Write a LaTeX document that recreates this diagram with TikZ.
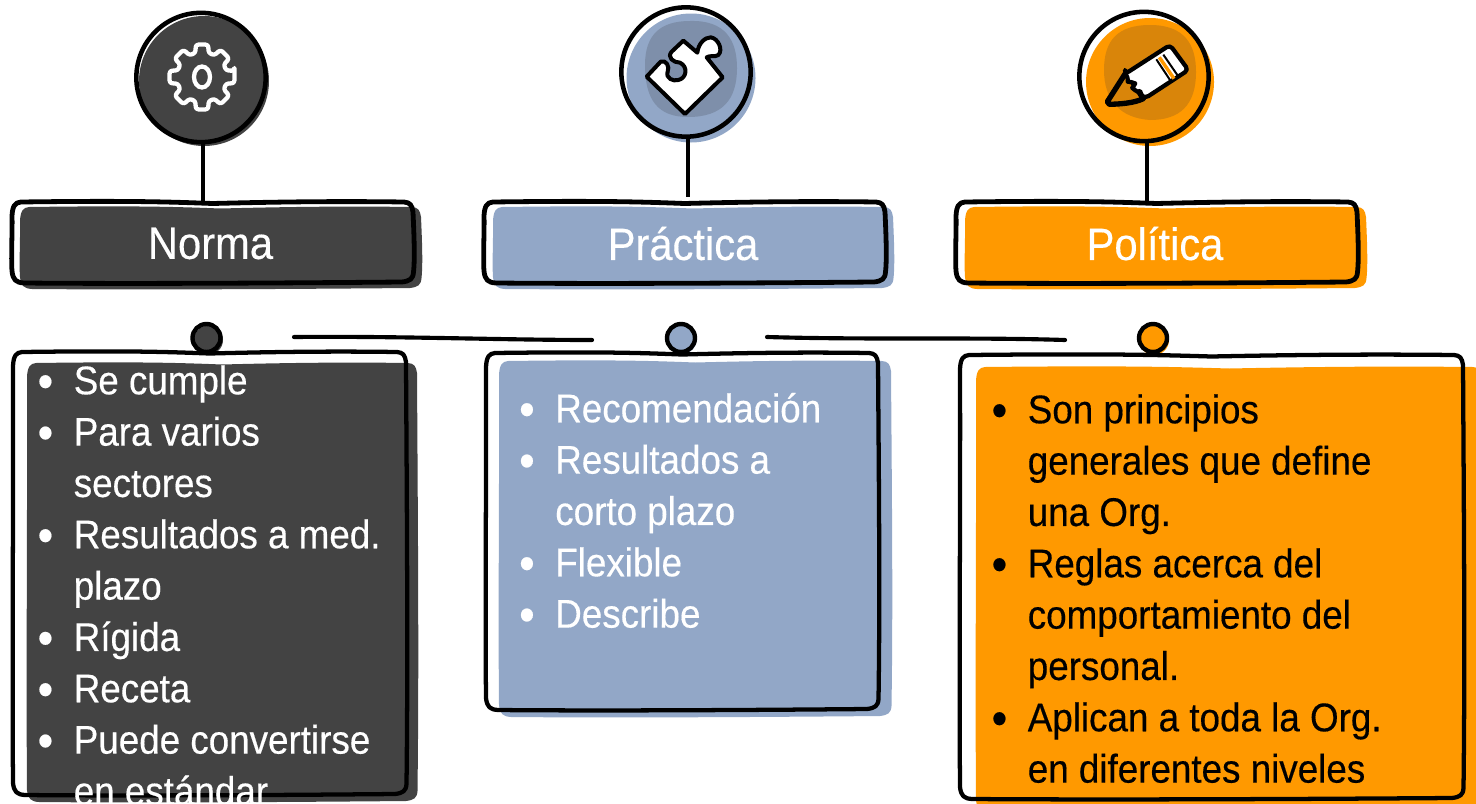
\documentclass[tikz,border=0pt]{standalone}
\usepackage{fontspec}
\usepackage{graphicx}
\setmainfont[FakeStretch=0.92,FakeBold=0.35]{Liberation Sans}
\definecolor{cdark}{HTML}{434343}
\definecolor{cblue}{HTML}{92A7C7}
\definecolor{cblueD}{HTML}{7E8FAA}
\definecolor{corange}{HTML}{FF9900}
\definecolor{corangeD}{HTML}{D9850A}
\newcommand{\hb}[4]{({#1+9},{#2}) .. controls ({#1+(#3-#1)*.3},{#2-1.5}) and ({#1+(#3-#1)*.4},{#2}) .. ({(#1+#3)/2},{#2+1.5})
 .. controls ({#1+(#3-#1)*.65},{#2}) and ({#1+(#3-#1)*.8},{#2-1}) .. ({#3-9},{#2})
 .. controls ({#3-3},{#2+.5}) and ({#3-1},{#2+3}) .. ({#3},{#2+10})
 .. controls ({#3+1},{#2+(#4-#2)*.4}) and ({#3+2},{#2+(#4-#2)*.7}) .. ({#3+.5},{#4-11})
 .. controls ({#3},{#4-4}) and ({#3-3},{#4-2}) .. ({#3-11},{#4-1})
 .. controls ({#1+(#3-#1)*.7},{#4}) and ({#1+(#3-#1)*.3},{#4+1}) .. ({#1+12},{#4})
 .. controls ({#1+4},{#4-.5}) and ({#1+1},{#4-3}) .. ({#1},{#4-12})
 .. controls ({#1-1},{#4-(#4-#2)*.3}) and ({#1+.5},{#2+(#4-#2)*.3}) .. ({#1},{#2+14})
 .. controls ({#1+.5},{#2+4}) and ({#1+3},{#2+.5}) .. ({#1+9},{#2}) -- cycle}
\newcommand{\lstrut}{\rule{0pt}{30pt}}
\newcommand{\bul}{\lstrut\llap{{\fontsize{36}{36}\selectfont\raisebox{-2.5pt}{\textbullet}}\hspace{15.45pt}}}
\tikzset{
 ol/.style={draw=black,line width=3.6pt,line join=round,line cap=round},
 thinol/.style={draw=black,line width=3.2pt,line join=round,line cap=round},
 ring/.style={circle,draw=black,line width=3.4pt,minimum size=97pt,inner sep=0pt},
 dot/.style={circle,draw=black,line width=3.3pt,minimum size=21pt,inner sep=0pt},
 title/.style={minimum width=300pt,minimum height=60.75pt,inner sep=0pt,text=white,font=\fontsize{34}{40}\selectfont},
 body/.style={anchor=north west,inner sep=0pt,align=left,font=\fontsize{30}{38.5}\selectfont},
 stem/.style={draw=black,line width=3pt},
 link/.style={draw=black,line width=3.1pt,line cap=round}
}
\begin{document}
\begin{tikzpicture}[x=0.75pt,y=-0.75pt]
\path[use as bounding box,clip] (0,0) rectangle (1476,803);
% ---- colour shapes behind
\fill[cdark] (204,81) circle [radius=65];
\fill[cblue] (691,78) circle [radius=64.5];
\fill[corange] (1150,82) circle [radius=64];
\fill[cblueD] (690,21) .. controls (725,20) and (737,40) .. (737,68) .. controls (737,100) and (722,117) .. (688,117) .. controls (658,117) and (645,100) .. (645,65) .. controls (645,35) and (660,21) .. (690,21) -- cycle;
\fill[corangeD] (1150,25) .. controls (1185,25) and (1196,45) .. (1196,72) .. controls (1196,105) and (1180,120) .. (1150,120) .. controls (1120,118) and (1104,100) .. (1104,70) .. controls (1104,40) and (1118,25) .. (1150,25) -- cycle;
\fill[cdark] \hb{20}{207}{421}{289};
\fill[cblue] \hb{493}{207}{893}{289};
\fill[corange] \hb{965}{207}{1366}{289};
\fill[cdark] \hb{27}{363}{417}{802};
\fill[cblue] \hb{499}{361}{891}{717};
\fill[corange] \hb{976}{367}{1482}{812};
\fill[cdark] (208.5,340) circle [radius=14.5];
\fill[cblue] (682,339.5) circle [radius=14.5];
\fill[corange] (1154,340) circle [radius=15];
% ---- rings, dots and titles
\node[ring] (ringN) at (201,77.5) {};
\node[ring] (ringP) at (686,72) {};
\node[ring] (ringO) at (1144,76.5) {};
\node[title] (tN) at (210.5,243.5) {Norma};
\node[title] (tP) at (683,243.5) {Práctica};
\node[title] (tO) at (1155,243.5) {Política};
\coordinate (topN) at (210,202);
\coordinate (topP) at (683,197);
\coordinate (topO) at (1155,202);
\node[dot] (dN) at (206.5,338) {};
\node[dot] (dP) at (681,338) {};
\node[dot] (dO) at (1153,338) {};
% ---- outlines
\draw[ol] \hb{12}{202}{413}{283};
\draw[ol] \hb{484}{202}{885}{283};
\draw[ol] \hb{956}{202}{1357}{283};
\draw[thinol] \hb{13}{352}{406}{795};
\draw[thinol] \hb{486}{353}{878}{710};
\draw[thinol] \hb{960}{355}{1463}{799};
% ---- connectors
\coordinate (sN) at (203,143);
\coordinate (sP) at (688,137);
\coordinate (sO) at (1147,142);
\draw[stem] (sN) -- (sN |- topN);
\draw[stem] (sP) -- (sP |- topP);
\draw[stem] (sO) -- (sO |- topO);
\coordinate (a1) at (294,337);
\coordinate (a2) at (592,340);
\coordinate (b1) at (767,337);
\coordinate (b2) at (1065,340);
\draw[link] (a1) .. controls (400,336) and (500,340) .. (a2);
\draw[link] (b1) .. controls (870,340) and (970,337) .. (b2);
% ---- gear
\begin{scope}[shift={(202,77)}]
\draw[white,line width=3.2pt,rounded corners=2pt,line join=round]
 (0-11:33) \foreach \a in {0,45,...,315}{ -- (\a-11:33) -- (\a+11:33) -- (\a+15:25) -- (\a+30:25) } -- cycle;
\draw[white,line width=3.2pt] (0,0) ellipse [x radius=8,y radius=10.5];
\end{scope}
% ---- puzzle piece
\begin{scope}[shift={(590,0)},x=0.25pt,y=-0.25pt]
\draw[fill=white,draw=black,line width=3pt,line join=round]
 (170,230) -- (212,185) .. controls (228,178) and (240,200) .. (233,215)
 .. controls (226,235) and (250,245) .. (265,240) .. controls (290,235) and (295,200) .. (270,188)
 .. controls (250,188) and (230,172) .. (245,155) -- (280,122) -- (322,158)
 .. controls (325,130) and (345,112) .. (362,112) .. controls (385,115) and (400,150) .. (385,165)
 .. controls (375,172) and (360,165) .. (350,172) -- (398,232) -- (285,342) -- cycle;
\end{scope}
% ---- pencil
\begin{scope}[shift={(1050,0)},x=0.25pt,y=-0.25pt]
\draw[fill=corangeD,draw=black,line width=4pt,line join=round]
 (172,305) -- (225,222) -- (240,235) -- (280,296) .. controls (250,310) and (210,312) .. (178,313) -- cycle;
\draw[fill=white,draw=black,line width=3.2pt,line join=round,rounded corners=3pt]
 (225,222) -- (360,135) -- (415,210) -- (285,295) -- (272,285) .. controls (270,272) and (262,275) .. (255,272)
 .. controls (248,265) and (255,250) .. (245,245) .. controls (235,245) and (232,232) .. (225,222) -- cycle;
\draw[corange,line width=2.6pt] (328,172) -- (372,236);
\draw[black,line width=1.5pt] (340,164) -- (384,228);
\draw[black,line width=1.5pt] (319,178) -- (362,243);
\end{scope}
% ---- bodies
\node[body,text=white] (bN) at (73.5,354) {\bul Se cumple\\ \bul Para varios\\ \lstrut sectores\\ \bul Resultados a med.\\ \lstrut plazo\\ \bul Rígida\\ \bul Receta\\ \bul Puede convertirse\\ \lstrut en estándar};
\node[body,text=white] (bP) at (555,382) {\bul Recomendación\\ \bul Resultados a\\ \lstrut corto plazo\\ \bul Flexible\\ \bul Describe};
\node[body,text=black] (bO) at (1027.5,383) {\bul Son principios\\ \lstrut generales que define\\ \lstrut una Org.\\ \bul Reglas acerca del\\ \lstrut comportamiento del\\ \lstrut personal.\\ \bul Aplican a toda la Org.\\ \lstrut en diferentes niveles};
\end{tikzpicture}
\end{document}
